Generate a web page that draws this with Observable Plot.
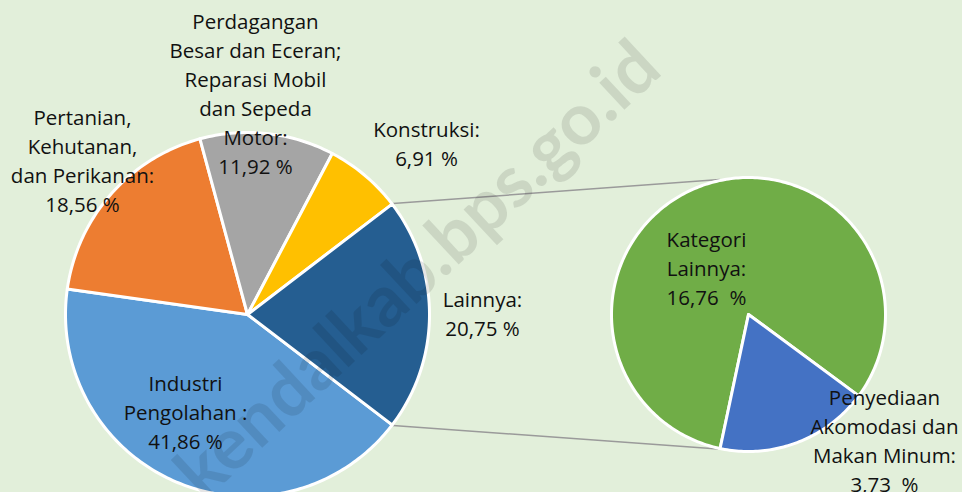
<!DOCTYPE html>
<html><head><meta charset="utf-8">
<script src="https://cdn.jsdelivr.net/npm/d3@7"></script>
<script src="https://cdn.jsdelivr.net/npm/@observablehq/plot@0.6"></script>
<style>html,body{margin:0;padding:0;background:#e2efda;overflow:hidden;}</style>
</head><body><div id="chart"></div>
<script>
// ---- data ----
const categories = ["Industri Pengolahan", "Pertanian, Kehutanan, dan Perikanan", "Perdagangan Besar dan Eceran; Reparasi Mobil dan Sepeda Motor", "Konstruksi", "Lainnya"];
const shares = [41.86, 18.56, 11.92, 6.91, 20.75];
const labelTexts = ["Industri\nPengolahan :", "Pertanian,\nKehutanan,\ndan Perikanan:", "Perdagangan\nBesar dan Eceran;\nReparasi Mobil\ndan Sepeda\nMotor:", "Konstruksi:", "Lainnya:"];
const subCategories = ["Kategori Lainnya", "Penyediaan Akomodasi dan Makan Minum"];
const subShares = [16.76, 3.73];
const subLabelTexts = ["Kategori\nLainnya:", "Penyediaan\nAkomodasi dan\nMakan Minum:"];
const watermarkText = "kendalkab.bps.go.id";

// ---- styles / layout ----
const colors = ["#5b9bd5", "#ed7d31", "#a5a5a5", "#ffc000", "#255e91"];
const subColors = ["#70ad47", "#4472c4"];
const W = 962, H = 492;
const mainPie = {cx: 247, cy: 314, r: 182};
const subPie = {cx: 748, cy: 314, r: 137};
const labelPos = [[185, 410], [82, 158.5], [255, 92], [426, 141.5], [482, 311.5]];
const subLabelPos = [[706, 266], [884, 438.5]];
const fmt = v => v.toFixed(2).replace(".", ",");

const rad = d => d * Math.PI / 180;
const pt = (p, a, r = p.r) => [p.cx + r * Math.cos(rad(a)), p.cy - r * Math.sin(rad(a))];

function slicePolys(values, names, pie, start) {
  const total = d3.sum(values);
  const out = [];
  let a = start;
  values.forEach((v, i) => {
    const span = v / total * 360;
    const n = Math.max(2, Math.ceil(span));
    out.push({name: names[i], x: pie.cx, y: pie.cy});
    for (let k = 0; k <= n; k++) {
      const [x, y] = pt(pie, a - span * k / n);
      out.push({name: names[i], x, y});
    }
    out.push({name: names[i], x: pie.cx, y: pie.cy});
    a -= span;
  });
  return out;
}

// main pie: "Lainnya" centred on the right-hand horizontal
const total = d3.sum(shares);
const otherSpan = shares[4] / total * 360;
const mainPolys = slicePolys(shares, categories, mainPie, -otherSpan / 2);

// sub pie
const subTotal = d3.sum(subShares);
const blueSpan = subShares[1] / subTotal * 360;
const blueCenter = -69.2;
const subPolys = slicePolys(subShares, subCategories, subPie, blueCenter + 360 - blueSpan / 2);

// connectors
const connAngles = [102, -102.8];
const connectors = [
  {p1: pt(mainPie, otherSpan / 2, mainPie.r + 1), p2: pt(subPie, connAngles[0], subPie.r + 1)},
  {p1: pt(mainPie, -otherSpan / 2, mainPie.r + 1), p2: pt(subPie, connAngles[1], subPie.r + 1)}
];

const labels = [
  ...categories.map((c, i) => ({text: labelTexts[i] + "\n" + fmt(shares[i]) + " %", x: labelPos[i][0], y: labelPos[i][1]})),
  ...subCategories.map((c, i) => ({text: subLabelTexts[i] + "\n" + fmt(subShares[i]) + "\u00a0 %", x: subLabelPos[i][0], y: subLabelPos[i][1]}))
];

const font = "'Open Sans', sans-serif";

const plot = Plot.plot({
  width: W, height: H,
  margin: 0,
  x: {domain: [0, W], range: [0, W], axis: null},
  y: {domain: [0, H], range: [0, H], axis: null},
  color: {domain: [...categories, ...subCategories], range: [...colors, ...subColors]},
  style: {background: "#e2efda", fontFamily: font},
  marks: [
    Plot.link(connectors, {x1: d => d.p1[0], y1: d => d.p1[1], x2: d => d.p2[0], y2: d => d.p2[1], stroke: "#9a9a9a", strokeWidth: 1.5}),
    Plot.line(mainPolys, {x: "x", y: "y", z: "name", fill: "name", stroke: "white", strokeWidth: 3, strokeLinejoin: "round"}),
    Plot.line(subPolys, {x: "x", y: "y", z: "name", fill: "name", stroke: "white", strokeWidth: 3, strokeLinejoin: "round"}),
    Plot.text(labels, {x: "x", y: "y", text: "text", fontSize: 20.5, lineHeight: 1.415, lineAnchor: "middle", textAnchor: "middle", fill: "#111", fontFamily: font}),
    Plot.text([watermarkText], {x: () => 418, y: () => 270, text: d => d, rotate: -43, fontSize: 72, fontWeight: "bold", fill: "black", fillOpacity: 0.1, fontFamily: "Lato, sans-serif"})
  ]
});
document.getElementById("chart").appendChild(plot);
</script>
</body></html>
